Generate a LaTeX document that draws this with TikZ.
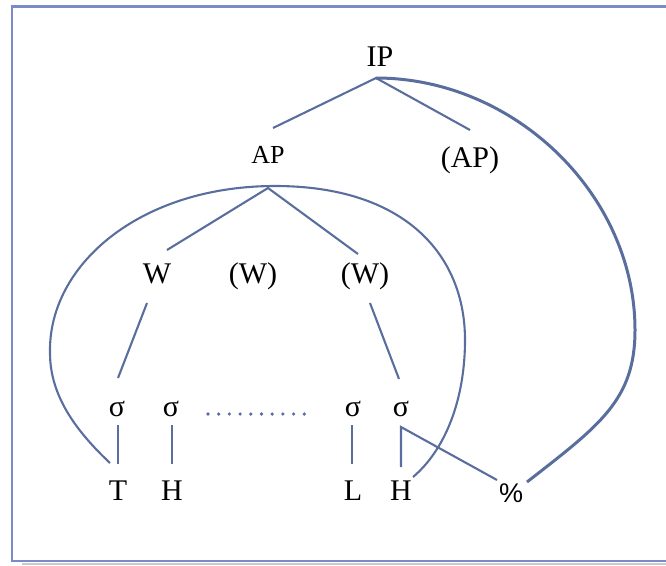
\documentclass[tikz,border=0pt]{standalone}
\usepackage{fontspec}
\setmainfont{Liberation Serif}
\newfontfamily\pctfont{Liberation Sans}
\definecolor{linkblue}{RGB}{90,110,158}
\definecolor{frameblue}{RGB}{122,140,200}
\tikzset{
  lab/.style={font=\fontsize{30}{34}\selectfont, inner sep=0pt, anchor=base},
  smalllab/.style={lab, font=\fontsize{26}{30}\selectfont},
  link/.style={draw=linkblue, line width=2.1pt},
  bigarc/.style={draw=linkblue, line width=3pt},
}

\begin{document}
\begin{tikzpicture}[x=1pt, y=-1pt]
  \useasboundingbox (0,0) rectangle (666,565);
  % frame
  \draw[black!20, line width=1.5pt] (22,564) -- (667,564);
  \draw[frameblue, line width=2.2pt] (667,6.5) -- (12,6.5) -- (12,561) -- (667,561);

  % labels
  \node[lab] (IP) at (380,66) {IP};
  \node[smalllab] (AP) at (268,163) {AP};
  \node[lab] (APopt) at (470,167) {(AP)};
  \node[lab] (W1) at (157,283) {W};
  \node[lab] (W2) at (253,283) {(W)};
  \node[lab] (W3) at (365,283) {(W)};
  \node[lab] (s1) at (117,416) {σ};
  \node[lab] (s2) at (171,416) {σ};
  \node[lab] (s3) at (353,416) {σ};
  \node[lab] (s4) at (401,416) {σ};
  \node[lab] (T) at (118,500) {T};
  \node[lab] (H1) at (172,500) {H};
  \node[lab] (L) at (353,500) {L};
  \node[lab] (H2) at (401,500) {H};
  \node[lab, font=\pctfont\fontsize{27}{30}\selectfont] (pct) at (511,502) {\%};

  % branch ends
  \coordinate (ipJ) at (376,78);
  \coordinate (apJ) at (268,188);
  \coordinate (apIn) at (273,128);
  \coordinate (apoptIn) at (470,130);
  \coordinate (w1In) at (167,250);
  \coordinate (w3In) at (358,254);
  \coordinate (w1Out) at (147,303);
  \coordinate (w3Out) at (370,303);
  \coordinate (s1In) at (118,378);
  \coordinate (s4In) at (399,379);
  \coordinate (s4Out) at (401,427);
  \coordinate (tEnd) at (110,463);
  \coordinate (hEnd) at (413,477);
  \coordinate (pctIn) at (497,480);
  \coordinate (pctEnd) at (527,482);

  % tree
  \draw[link] (apIn) -- (ipJ) -- (apoptIn);
  \draw[link] (w1In) -- (apJ) -- (w3In);
  \draw[link] (w1Out) -- (s1In);
  \draw[link] (w3Out) -- (s4In);
  \draw[link] (118,425) -- (118,464);
  \draw[link] (172,425) -- (172,464);
  \draw[link] (352,425) -- (352,464);
  \draw[link] (401,467) -- (s4Out) -- (pctIn);
  \foreach \i in {0,...,9}
    \fill[linkblue] ({208+\i*10.7},414) circle (1.8pt);

  % AP domain
  \draw[link] (tEnd) .. controls (75,430) and (50,395) .. (50,353)
    .. controls (48,265) and (140,186) .. (275,186)
    .. controls (405,186) and (465,255) .. (465,340)
    .. controls (465,400) and (445,450) .. (hEnd);
  % IP domain
  \draw[bigarc] (ipJ) .. controls (515,78) and (635,195) .. (635,330)
    .. controls (635,400) and (600,425) .. (pctEnd);
\end{tikzpicture}
\end{document}
